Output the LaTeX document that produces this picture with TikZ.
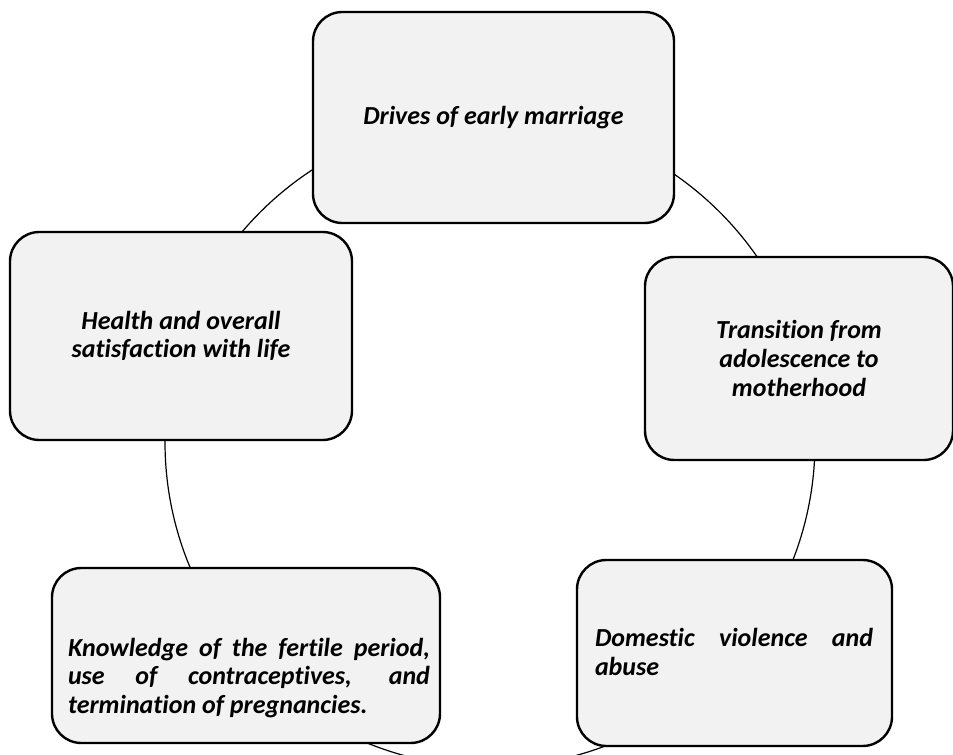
\documentclass[tikz,border=0pt]{standalone}
\usepackage{fontspec}
\setmainfont[Ligatures=CommonOff]{Carlito}
\definecolor{boxgray}{HTML}{F2F2F2}
\hyphenpenalty=10000
\exhyphenpenalty=10000
\tolerance=9999
\tikzset{
  box/.style 2 args={draw=black, line width=1.8pt, fill=boxgray, rounded corners=22pt,
    minimum width=#1*0.75pt, minimum height=#2*0.75pt, inner sep=0pt, align=center,
    font=\fontsize{19.5}{21.5}\selectfont\bfseries\itshape},
  txt/.style={text width=#1*0.75pt, align=justify, inner sep=0pt,
    font=\fontsize{19.5}{21.5}\selectfont\bfseries\itshape},
  ring/.style={draw=black, line width=0.9pt}
}
\begin{document}
\begin{tikzpicture}[x=0.75pt,y=-0.75pt]
  \useasboundingbox (0,0) rectangle (953,755);
  \draw[ring] (490,442) circle [radius=325];
  % the five stages
  \node[box={361}{211}] (drives) at (493.5,117.5) {Drives of early marriage};
  \node[box={342}{208}] (health) at (181,336) {Health and overall\\satisfaction with life};
  \node[box={308}{203}] (transition) at (799,358.5) {Transition from\\adolescence to\\motherhood};
  \node[box={388}{175}] (knowledge) at (246,655.5) {};
  \node[txt=362] (knowledge-text) at (249,678) {Knowledge of the fertile period, use of contraceptives, and termination of pregnancies.};
  \node[box={315}{186}] (domestic) at (734.5,653) {};
  \node[txt=278] (domestic-text) at (734,652) {Domestic violence and abuse};
\end{tikzpicture}
\end{document}
